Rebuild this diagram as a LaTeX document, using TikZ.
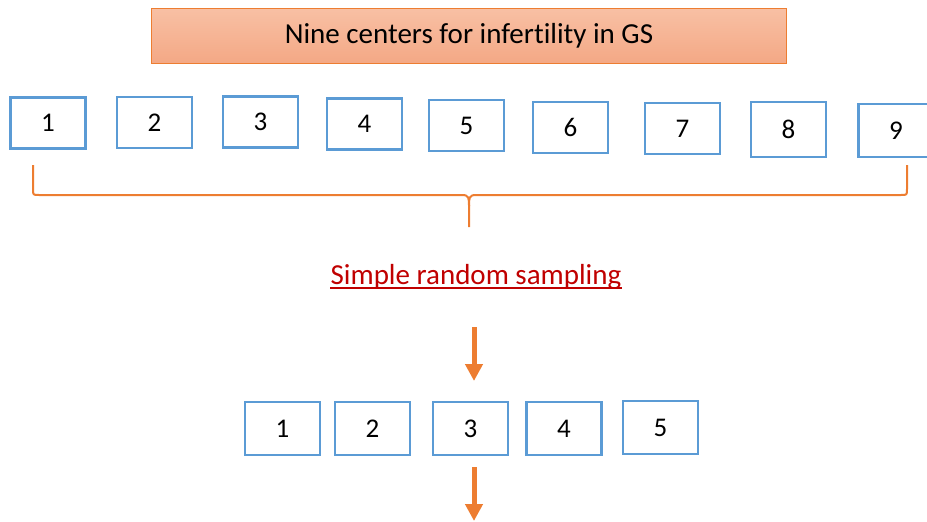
\documentclass[tikz,border=0pt]{standalone}
\usepackage{fontspec}
\setmainfont{Carlito}[Ligatures=NoCommon]
\usetikzlibrary{arrows.meta}
\definecolor{boxblue}{HTML}{5B9BD5}
\definecolor{orng}{HTML}{ED7D31}
\definecolor{titletop}{HTML}{F8C0A4}
\definecolor{titlebot}{HTML}{F4A885}
\definecolor{darkred}{HTML}{C00000}
\begin{document}
\begin{tikzpicture}[x=1pt,y=-1pt,
  numbox/.style={draw=boxblue,line width=2.8pt,fill=white,inner sep=0pt,
    minimum width=75pt,minimum height=51pt,font=\fontsize{27}{31}\selectfont},
  bigtext/.style={font=\fontsize{29}{34}\selectfont},
  bracel/.style={draw=orng,line width=2pt},
  fatarrow/.style={draw=orng,line width=5pt,-{Triangle[width=17pt,length=17pt]}}]
\useasboundingbox (0,0) rectangle (927,522);
% title
\node[bigtext,draw=orng,line width=1pt,top color=titletop,bottom color=titlebot,
  minimum width=635pt,minimum height=55pt,inner sep=0pt] (title) at (469,36)
  {Nine centers for infertility in GS};
% top boxes
\node[numbox] (t1) at (48,123) {1};
\node[numbox] (t2) at (154.5,122.5) {2};
\node[numbox] (t3) at (260.5,122) {3};
\node[numbox] (t4) at (364.5,124) {4};
\node[numbox] (t5) at (466.5,125.5) {5};
\node[numbox] (t6) at (570.5,127.5) {6};
\node[numbox] (t7) at (682.5,128.5) {7};
\node[numbox,minimum height=55pt] (t8) at (788.5,129.5) {8};
\node[numbox,minimum height=53pt] (t9) at (896,130.5) {9};
% brace
\coordinate (bl) at (33,165);
\coordinate (br) at (907,165);
\coordinate (bm) at (469,227);
\draw[bracel] (bl) -- (33,189) .. controls (33,195) .. (39,195) -- (462,195)
  .. controls (469,195) and (469,198) .. (469,206) -- (bm);
\draw[bracel] (br) -- (907,189) .. controls (907,195) .. (901,195) -- (476,195)
  .. controls (469,195) and (469,198) .. (469,206);
% label
\node[bigtext,text=darkred,inner sep=0pt,anchor=base] (lab) at (476,284) {Simple random sampling};
\draw[darkred,line width=2pt] ([yshift=-4pt]lab.base west) -- ([yshift=-4pt]lab.base east);
% bottom boxes
\node[numbox,minimum height=53pt] (c1) at (282.5,428.5) {1};
\node[numbox,minimum height=53pt] (c2) at (372.5,428.5) {2};
\node[numbox,minimum height=53pt] (c3) at (470.5,428.5) {3};
\node[numbox,minimum height=53pt] (c4) at (564,428.5) {4};
\node[numbox,minimum height=53pt] (c5) at (660.5,427.5) {5};
% arrows
\coordinate (a1s) at (474,327);
\coordinate (a1e) at (474,381);
\coordinate (a2s) at (474,467);
\coordinate (a2e) at (474,521);
\draw[fatarrow] (a1s) -- (a1e);
\draw[fatarrow] (a2s) -- (a2e);
\end{tikzpicture}
\end{document}
